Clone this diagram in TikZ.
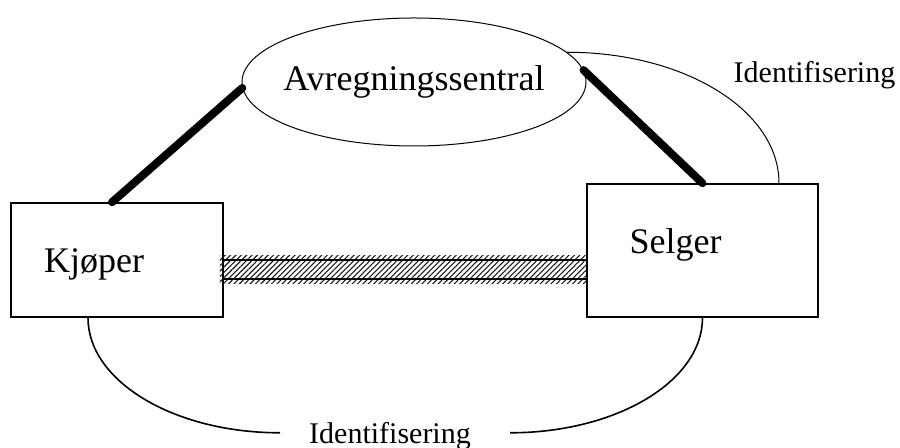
\documentclass[tikz,border=0pt]{standalone}
\usepackage{fontspec}
\setmainfont{Liberation Serif}
\usetikzlibrary{                          % TikZ libraries
                shapes,                   % .
                calc,                     % .
                patterns.meta}

\begin{document}
\begin{tikzpicture}[x=0.5pt,y=0.5pt
                    ]
                % define styles
\tikzset{hub/.style={ellipse,
                       draw=black,
                       line width=0.5pt,
                       inner sep=0,
                       minimum width=172pt,
                       minimum height=64pt,
                       },
         box/.style={rectangle,
                       draw=black,
                       line width=0.8pt,
                       inner sep=0,
                       },
         big/.style={anchor=base,
                       font=\fontsize{18}{20}\selectfont,
                       },
         small/.style={anchor=base,
                       font=\fontsize{15}{17}\selectfont,
                       }
}
\tikzset{link/.style={line width=4pt, line cap=round}}
\tikzset{ident/.style={line width=0.8pt}}
\tikzset{band/.style={pattern={Lines[angle=45,distance=1.9pt,line width=0.55pt]},
                      pattern color=black!90}}

\useasboundingbox (0,0) rectangle (900,448);

% nodes
\node[hub,label={[font=\fontsize{18}{20}\selectfont]center:Avregningssentral}]
                                                       (sentral) at (414,366)   {};
\node[box,minimum width=106pt,minimum height=57pt]     (kjoper)  at (117,188)   {};
\node[box,minimum width=115.5pt,minimum height=66.5pt] (selger)  at (702.5,197.5) {};

% labels
\node[big]   at (94,175)    {Kjøper};
\node[big]   at (675.5,194) {Selger};
\node[small] (identS) at (814.5,365) {Identifisering};
\node[small] (identB) at (390,4)     {Identifisering};

% thick links to the central
\draw[link] ([xshift=-2.5pt]kjoper.north) -- (sentral.182);
\draw[link] (selger.north) -- (sentral.4);

% hatched band between the boxes
\path[band] ([xshift=-2pt,yshift=-12pt]kjoper.east) rectangle ([yshift=-2.75pt]selger.west);
\draw[line width=0.6pt] (kjoper.east) -- (kjoper.east -| selger.west);
\draw[line width=0.6pt] ([yshift=-9.5pt]kjoper.east) -- ([yshift=-9.5pt]kjoper.east -| selger.west);

% identification arcs
\draw[line width=0.5pt] (sentral.11) .. controls +(0:58.8pt) and +(90:36.4pt) .. ([xshift=38.25pt]selger.north);
\draw[ident] ([xshift=-14.5pt]kjoper.south) arc[start angle=180,end angle=270,x radius=96pt,y radius=57.5pt];
\draw[ident] (selger.south) arc[start angle=0,end angle=-90,x radius=96.25pt,y radius=57.5pt];

\end{tikzpicture}
\end{document}
